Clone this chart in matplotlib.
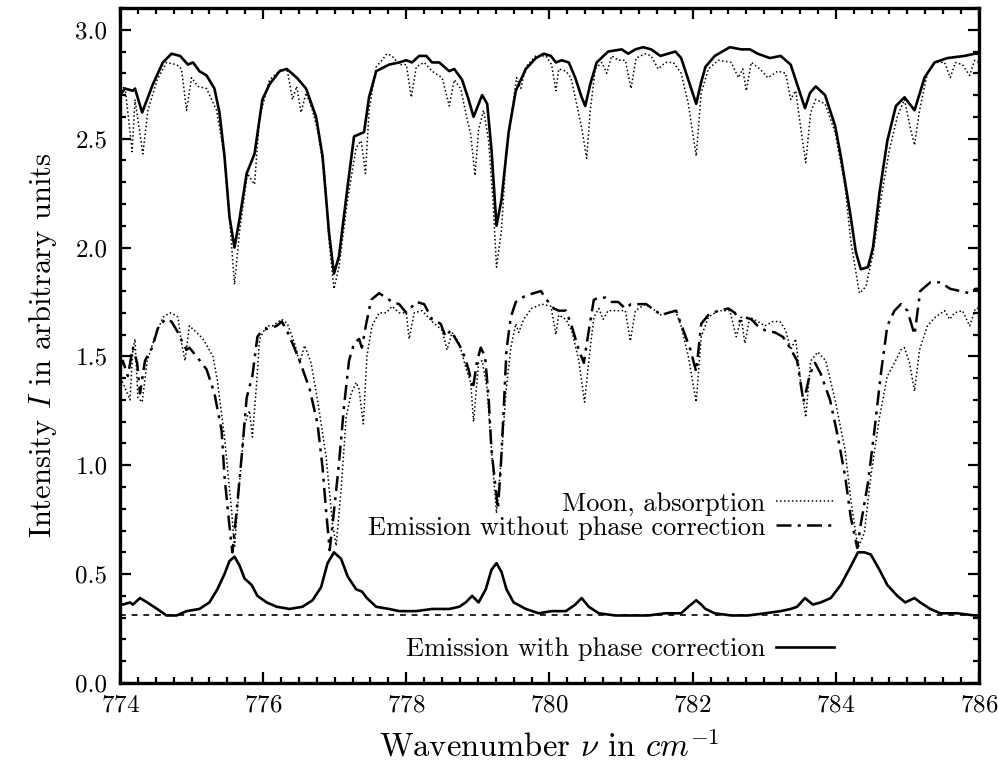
import matplotlib
matplotlib.use("Agg")
import matplotlib.pyplot as plt
from matplotlib.ticker import MultipleLocator

plt.rcParams['font.family'] = 'serif'
plt.rcParams['font.serif'] = ['cmr10', 'DejaVu Serif']
plt.rcParams['mathtext.fontset'] = 'cm'
plt.rcParams['axes.unicode_minus'] = False
plt.rcParams['axes.formatter.use_mathtext'] = True

# upper pair: smoothed spectrum (solid) and moon absorption (dotted)
up_sol_x = [774.00, 774.07, 774.18, 774.21, 774.31, 774.46, 774.60, 774.72, 774.84, 774.95, 775.02,
            775.11, 775.21, 775.32, 775.39, 775.46, 775.53, 775.60, 775.67, 775.77, 775.88, 775.99,
            776.09, 776.23, 776.33, 776.47, 776.60, 776.74, 776.83, 776.92, 776.99, 777.06, 777.18,
            777.27, 777.34, 777.41, 777.48, 777.58, 777.76, 777.90, 778.00, 778.08, 778.18, 778.28,
            778.36, 778.46, 778.60, 778.67, 778.78, 778.87, 778.94, 779.06, 779.13, 779.19, 779.26,
            779.33, 779.43, 779.53, 779.67, 779.81, 779.92, 780.02, 780.09, 780.17, 780.27, 780.36,
            780.45, 780.50, 780.57, 780.66, 780.82, 781.01, 781.10, 781.20, 781.31, 781.42, 781.55,
            781.76, 781.84, 781.94, 782.05, 782.12, 782.18, 782.31, 782.52, 782.68, 782.80, 782.91,
            783.08, 783.23, 783.37, 783.46, 783.57, 783.64, 783.72, 783.85, 783.99, 784.07, 784.20,
            784.28, 784.35, 784.45, 784.52, 784.61, 784.72, 784.84, 784.96, 785.10, 785.24, 785.38,
            785.56, 785.80, 785.94, 786.00]
up_sol_y = [2.70, 2.73, 2.72, 2.73, 2.62, 2.75, 2.85, 2.89, 2.88, 2.84, 2.85,
            2.81, 2.79, 2.73, 2.62, 2.42, 2.14, 2.00, 2.13, 2.34, 2.43, 2.68,
            2.75, 2.81, 2.82, 2.78, 2.73, 2.60, 2.42, 2.07, 1.88, 1.96, 2.28,
            2.51, 2.52, 2.53, 2.69, 2.81, 2.84, 2.85, 2.86, 2.85, 2.88, 2.88,
            2.85, 2.85, 2.81, 2.82, 2.77, 2.68, 2.60, 2.70, 2.66, 2.45, 2.10,
            2.22, 2.53, 2.72, 2.82, 2.87, 2.89, 2.88, 2.85, 2.86, 2.85, 2.78,
            2.69, 2.65, 2.75, 2.85, 2.90, 2.91, 2.89, 2.91, 2.92, 2.91, 2.88,
            2.90, 2.87, 2.77, 2.66, 2.76, 2.83, 2.88, 2.92, 2.91, 2.91, 2.89,
            2.87, 2.88, 2.84, 2.75, 2.64, 2.71, 2.74, 2.70, 2.56, 2.42, 2.16,
            1.98, 1.90, 1.91, 2.00, 2.25, 2.49, 2.65, 2.69, 2.63, 2.78, 2.85,
            2.87, 2.88, 2.89, 2.89]

up_dot_x = [774.00, 774.07, 774.17, 774.21, 774.32, 774.39, 774.52, 774.65, 774.79, 774.86, 774.93,
            775.00, 775.09, 775.21, 775.35, 775.46, 775.53, 775.60, 775.67, 775.78, 775.88, 775.95,
            776.09, 776.26, 776.34, 776.41, 776.47, 776.53, 776.60, 776.69, 776.76, 776.86, 776.92,
            776.99, 777.06, 777.18, 777.30, 777.37, 777.43, 777.48, 777.58, 777.66, 777.73, 777.80,
            777.90, 778.00, 778.07, 778.14, 778.25, 778.36, 778.50, 778.60, 778.67, 778.76, 778.83,
            778.90, 778.96, 779.01, 779.08, 779.15, 779.21, 779.26, 779.33, 779.40, 779.50, 779.54,
            779.60, 779.67, 779.81, 779.95, 780.03, 780.09, 780.13, 780.23, 780.30, 780.36, 780.45,
            780.52, 780.57, 780.64, 780.73, 780.80, 780.87, 780.96, 781.06, 781.14, 781.21, 781.34,
            781.42, 781.52, 781.62, 781.73, 781.84, 781.94, 782.05, 782.12, 782.22, 782.36, 782.54,
            782.64, 782.70, 782.75, 782.82, 782.94, 783.05, 783.19, 783.30, 783.37, 783.44, 783.51,
            783.58, 783.65, 783.72, 783.85, 783.99, 784.13, 784.21, 784.33, 784.42, 784.52, 784.63,
            784.75, 784.86, 784.96, 785.04, 785.10, 785.17, 785.28, 785.39, 785.52, 785.60, 785.67,
            785.77, 785.87, 785.94, 786.00]
up_dot_y = [2.72, 2.74, 2.44, 2.68, 2.43, 2.63, 2.77, 2.85, 2.84, 2.82, 2.63,
            2.78, 2.74, 2.73, 2.63, 2.42, 2.14, 1.83, 2.07, 2.34, 2.29, 2.60,
            2.77, 2.82, 2.81, 2.68, 2.74, 2.62, 2.71, 2.63, 2.54, 2.34, 2.03,
            1.81, 1.91, 2.22, 2.46, 2.49, 2.34, 2.63, 2.83, 2.86, 2.89, 2.88,
            2.84, 2.84, 2.69, 2.83, 2.85, 2.81, 2.78, 2.65, 2.77, 2.73, 2.62,
            2.52, 2.33, 2.54, 2.63, 2.49, 2.22, 1.91, 2.08, 2.45, 2.68, 2.78,
            2.73, 2.83, 2.88, 2.88, 2.84, 2.72, 2.82, 2.81, 2.78, 2.69, 2.55,
            2.41, 2.63, 2.82, 2.85, 2.80, 2.88, 2.86, 2.86, 2.73, 2.87, 2.89,
            2.88, 2.82, 2.85, 2.85, 2.80, 2.66, 2.42, 2.71, 2.82, 2.86, 2.85,
            2.78, 2.82, 2.72, 2.85, 2.82, 2.78, 2.81, 2.80, 2.68, 2.72, 2.55,
            2.39, 2.62, 2.68, 2.66, 2.53, 2.28, 2.03, 1.79, 1.82, 1.97, 2.22,
            2.45, 2.60, 2.68, 2.55, 2.47, 2.63, 2.80, 2.85, 2.85, 2.78, 2.85,
            2.84, 2.79, 2.86, 2.85]

# middle pair: emission without phase correction (dash-dot) and moon absorption (dotted)
mid_dd_x = [774.00, 774.04, 774.11, 774.18, 774.24, 774.28, 774.35, 774.45, 774.53, 774.63, 774.72,
            774.81, 774.88, 774.93, 774.97, 775.07, 775.21, 775.32, 775.42, 775.46, 775.53, 775.57,
            775.63, 775.70, 775.77, 775.85, 775.92, 775.99, 776.09, 776.19, 776.26, 776.33, 776.41,
            776.51, 776.65, 776.76, 776.83, 776.88, 776.93, 776.99, 777.06, 777.13, 777.20, 777.27,
            777.34, 777.38, 777.44, 777.51, 777.62, 777.72, 777.80, 777.90, 778.00, 778.14, 778.25,
            778.36, 778.48, 778.55, 778.62, 778.69, 778.78, 778.87, 778.93, 778.99, 779.04, 779.10,
            779.15, 779.19, 779.25, 779.28, 779.32, 779.36, 779.40, 779.46, 779.53, 779.67, 779.78,
            779.88, 779.96, 780.06, 780.13, 780.23, 780.31, 780.41, 780.48, 780.55, 780.62, 780.69,
            780.78, 780.87, 780.96, 781.06, 781.14, 781.24, 781.35, 781.48, 781.56, 781.66, 781.77,
            781.87, 781.97, 782.05, 782.12, 782.22, 782.36, 782.50, 782.59, 782.66, 782.73, 782.82,
            782.91, 783.01, 783.15, 783.26, 783.36, 783.46, 783.55, 783.64, 783.71, 783.79, 783.92,
            784.03, 784.13, 784.21, 784.30, 784.35, 784.45, 784.54, 784.63, 784.72, 784.82, 784.91,
            785.00, 785.10, 785.18, 785.32, 785.46, 785.60, 785.74, 785.87, 785.95, 786.00]
mid_dd_y = [1.45, 1.48, 1.41, 1.54, 1.47, 1.33, 1.48, 1.54, 1.63, 1.67, 1.66,
            1.61, 1.56, 1.53, 1.54, 1.50, 1.44, 1.33, 1.16, 0.95, 0.72, 0.60,
            0.79, 1.04, 1.31, 1.41, 1.59, 1.62, 1.63, 1.64, 1.66, 1.62, 1.56,
            1.48, 1.35, 1.19, 0.99, 0.79, 0.61, 0.79, 1.01, 1.27, 1.48, 1.56,
            1.58, 1.54, 1.65, 1.76, 1.79, 1.77, 1.75, 1.74, 1.70, 1.75, 1.74,
            1.67, 1.65, 1.59, 1.62, 1.58, 1.53, 1.44, 1.35, 1.48, 1.54, 1.50,
            1.31, 1.07, 0.89, 0.80, 0.99, 1.25, 1.53, 1.68, 1.75, 1.78, 1.79,
            1.80, 1.76, 1.72, 1.71, 1.71, 1.64, 1.53, 1.47, 1.62, 1.76, 1.77,
            1.77, 1.75, 1.75, 1.72, 1.74, 1.74, 1.74, 1.71, 1.69, 1.70, 1.71,
            1.62, 1.53, 1.43, 1.65, 1.69, 1.71, 1.72, 1.70, 1.66, 1.68, 1.67,
            1.64, 1.62, 1.61, 1.59, 1.54, 1.48, 1.29, 1.42, 1.47, 1.42, 1.30,
            1.13, 0.95, 0.76, 0.62, 0.73, 0.92, 1.16, 1.42, 1.64, 1.71, 1.74,
            1.71, 1.60, 1.80, 1.84, 1.84, 1.81, 1.80, 1.79, 1.81, 1.81]

mid_dot_x = [774.00, 774.04, 774.14, 774.18, 774.21, 774.25, 774.31, 774.38, 774.49, 774.60, 774.70,
             774.77, 774.81, 774.86, 774.91, 774.97, 775.07, 775.16, 775.30, 775.36, 775.46, 775.56,
             775.60, 775.67, 775.74, 775.81, 775.85, 775.91, 775.95, 776.05, 776.13, 776.26, 776.34,
             776.44, 776.51, 776.58, 776.67, 776.76, 776.88, 776.97, 777.02, 777.09, 777.16, 777.23,
             777.30, 777.34, 777.40, 777.45, 777.52, 777.62, 777.72, 777.80, 777.90, 778.00, 778.04,
             778.11, 778.22, 778.36, 778.50, 778.57, 778.64, 778.74, 778.83, 778.90, 778.94, 779.01,
             779.06, 779.13, 779.19, 779.26, 779.33, 779.39, 779.46, 779.53, 779.57, 779.64, 779.75,
             779.89, 780.02, 780.09, 780.13, 780.23, 780.31, 780.41, 780.49, 780.55, 780.62, 780.69,
             780.75, 780.82, 780.96, 781.06, 781.13, 781.20, 781.34, 781.48, 781.56, 781.76, 781.84,
             781.94, 782.05, 782.12, 782.22, 782.36, 782.52, 782.61, 782.68, 782.73, 782.80, 782.91,
             783.01, 783.12, 783.22, 783.30, 783.37, 783.44, 783.51, 783.58, 783.65, 783.75, 783.86,
             783.99, 784.13, 784.21, 784.31, 784.40, 784.49, 784.61, 784.72, 784.82, 784.91, 784.96,
             785.03, 785.10, 785.17, 785.28, 785.39, 785.52, 785.59, 785.66, 785.77, 785.87, 785.95,
             786.00]
mid_dot_y = [1.40, 1.38, 1.30, 1.53, 1.58, 1.31, 1.29, 1.48, 1.59, 1.68, 1.70,
             1.69, 1.68, 1.56, 1.48, 1.64, 1.61, 1.58, 1.50, 1.39, 1.13, 0.79,
             0.62, 0.92, 1.19, 1.25, 1.13, 1.38, 1.58, 1.64, 1.64, 1.67, 1.65,
             1.56, 1.47, 1.55, 1.47, 1.30, 1.04, 0.73, 0.63, 0.89, 1.22, 1.33,
             1.38, 1.35, 1.19, 1.50, 1.64, 1.70, 1.70, 1.73, 1.70, 1.70, 1.58,
             1.70, 1.71, 1.66, 1.62, 1.53, 1.61, 1.56, 1.45, 1.38, 1.20, 1.47,
             1.48, 1.35, 1.07, 0.78, 1.04, 1.33, 1.54, 1.65, 1.61, 1.67, 1.72,
             1.74, 1.73, 1.60, 1.69, 1.67, 1.62, 1.48, 1.29, 1.48, 1.68, 1.72,
             1.67, 1.71, 1.71, 1.71, 1.57, 1.71, 1.74, 1.71, 1.69, 1.71, 1.64,
             1.50, 1.29, 1.59, 1.68, 1.71, 1.71, 1.59, 1.68, 1.56, 1.68, 1.66,
             1.64, 1.66, 1.66, 1.62, 1.53, 1.58, 1.38, 1.22, 1.48, 1.52, 1.48,
             1.30, 1.07, 0.84, 0.62, 0.69, 0.95, 1.22, 1.41, 1.47, 1.53, 1.54,
             1.47, 1.34, 1.53, 1.64, 1.68, 1.71, 1.67, 1.70, 1.71, 1.64, 1.72,
             1.72]

# bottom: emission with phase correction
low_x = [774.00, 774.04, 774.14, 774.18, 774.28, 774.38, 774.52, 774.65, 774.79, 774.93, 775.11,
         775.25, 775.36, 775.46, 775.53, 775.60, 775.67, 775.74, 775.84, 775.92, 776.05, 776.19,
         776.37, 776.55, 776.69, 776.81, 776.90, 776.99, 777.09, 777.18, 777.30, 777.38, 777.45,
         777.58, 777.76, 777.90, 778.14, 778.36, 778.60, 778.74, 778.83, 778.92, 779.01, 779.11,
         779.19, 779.26, 779.33, 779.40, 779.50, 779.67, 779.85, 780.03, 780.23, 780.36, 780.45,
         780.55, 780.69, 780.92, 781.14, 781.38, 781.62, 781.84, 781.94, 782.05, 782.12, 782.18,
         782.31, 782.54, 782.77, 783.01, 783.23, 783.37, 783.46, 783.57, 783.68, 783.79, 783.93,
         784.07, 784.20, 784.31, 784.40, 784.49, 784.61, 784.72, 784.86, 784.97, 785.10, 785.18,
         785.32, 785.46, 785.70, 785.94, 786.00]
low_y = [0.36, 0.36, 0.37, 0.36, 0.39, 0.37, 0.34, 0.31, 0.31, 0.33, 0.34,
         0.37, 0.43, 0.50, 0.56, 0.58, 0.54, 0.48, 0.45, 0.40, 0.37, 0.35,
         0.34, 0.35, 0.38, 0.44, 0.55, 0.60, 0.57, 0.49, 0.43, 0.42, 0.39,
         0.35, 0.34, 0.33, 0.33, 0.34, 0.34, 0.35, 0.37, 0.40, 0.37, 0.43,
         0.52, 0.55, 0.51, 0.43, 0.37, 0.34, 0.32, 0.33, 0.33, 0.36, 0.39,
         0.35, 0.32, 0.31, 0.31, 0.31, 0.32, 0.32, 0.35, 0.38, 0.36, 0.34,
         0.32, 0.31, 0.31, 0.32, 0.33, 0.34, 0.35, 0.39, 0.36, 0.37, 0.39,
         0.45, 0.53, 0.60, 0.60, 0.59, 0.52, 0.45, 0.40, 0.37, 0.39, 0.37,
         0.34, 0.32, 0.32, 0.31, 0.31]

baseline = 0.31

xticks = [774, 776, 778, 780, 782, 784, 786]
yticks = [0.0, 0.5, 1.0, 1.5, 2.0, 2.5, 3.0]

dots = (0, (1, 1.6))

fig = plt.figure(figsize=(9.98, 7.62), dpi=100)
ax = fig.add_axes([0.1202, 0.1037, 0.8607, 0.8858])

ax.plot(up_sol_x, up_sol_y, color='black', lw=1.9, solid_joinstyle='round')
ax.plot(up_dot_x, up_dot_y, color='black', lw=1.1, linestyle=dots)
l_moon, = ax.plot(mid_dot_x, mid_dot_y, color='black', lw=1.1, linestyle=dots)
l_nopc, = ax.plot(mid_dd_x, mid_dd_y, color='black', lw=1.8, linestyle=(0, (6, 2.5, 1.2, 2.5)))
l_pc, = ax.plot(low_x, low_y, color='black', lw=1.9, solid_joinstyle='round')
ax.axhline(baseline, color='black', lw=1.2, linestyle=(0, (3.5, 3.5)))

ax.set_xlim(774, 786)
ax.set_ylim(0, 3.1)
ax.set_xticks(xticks)
ax.set_yticks(yticks)
ax.set_yticklabels(['%.1f' % v for v in yticks])
ax.xaxis.set_minor_locator(MultipleLocator(0.25))
ax.yaxis.set_minor_locator(MultipleLocator(0.1))
ax.tick_params(which='both', direction='in', top=True, right=True, width=1.6, labelsize=18)
ax.tick_params(which='major', length=8)
ax.tick_params(which='minor', length=4)
ax.tick_params(axis='x', pad=8)
ax.tick_params(axis='y', pad=9)
for s in ax.spines.values():
    s.set_linewidth(2.4)

ax.set_xlabel(r'Wavenumber $\nu$ in $cm^{-1}$', fontsize=23.5, labelpad=10)
ax.set_ylabel(r'Intensity $I$ in arbitrary units', fontsize=22, labelpad=12)

leg1 = ax.legend([l_moon, l_nopc], ['Moon, absorption', 'Emission without phase correction'],
                 markerfirst=False, frameon=False, fontsize=19, handlelength=2.2,
                 handletextpad=0.4, labelspacing=0.0, borderpad=0, borderaxespad=0,
                 loc='upper right', bbox_to_anchor=(0.831, 0.283))
ax.add_artist(leg1)
ax.legend([l_pc], ['Emission with phase correction'],
          markerfirst=False, frameon=False, fontsize=19, handlelength=2.2,
          handletextpad=0.4, borderpad=0, borderaxespad=0,
          loc='upper right', bbox_to_anchor=(0.831, 0.068))

fig.savefig('out.png', dpi=100)
